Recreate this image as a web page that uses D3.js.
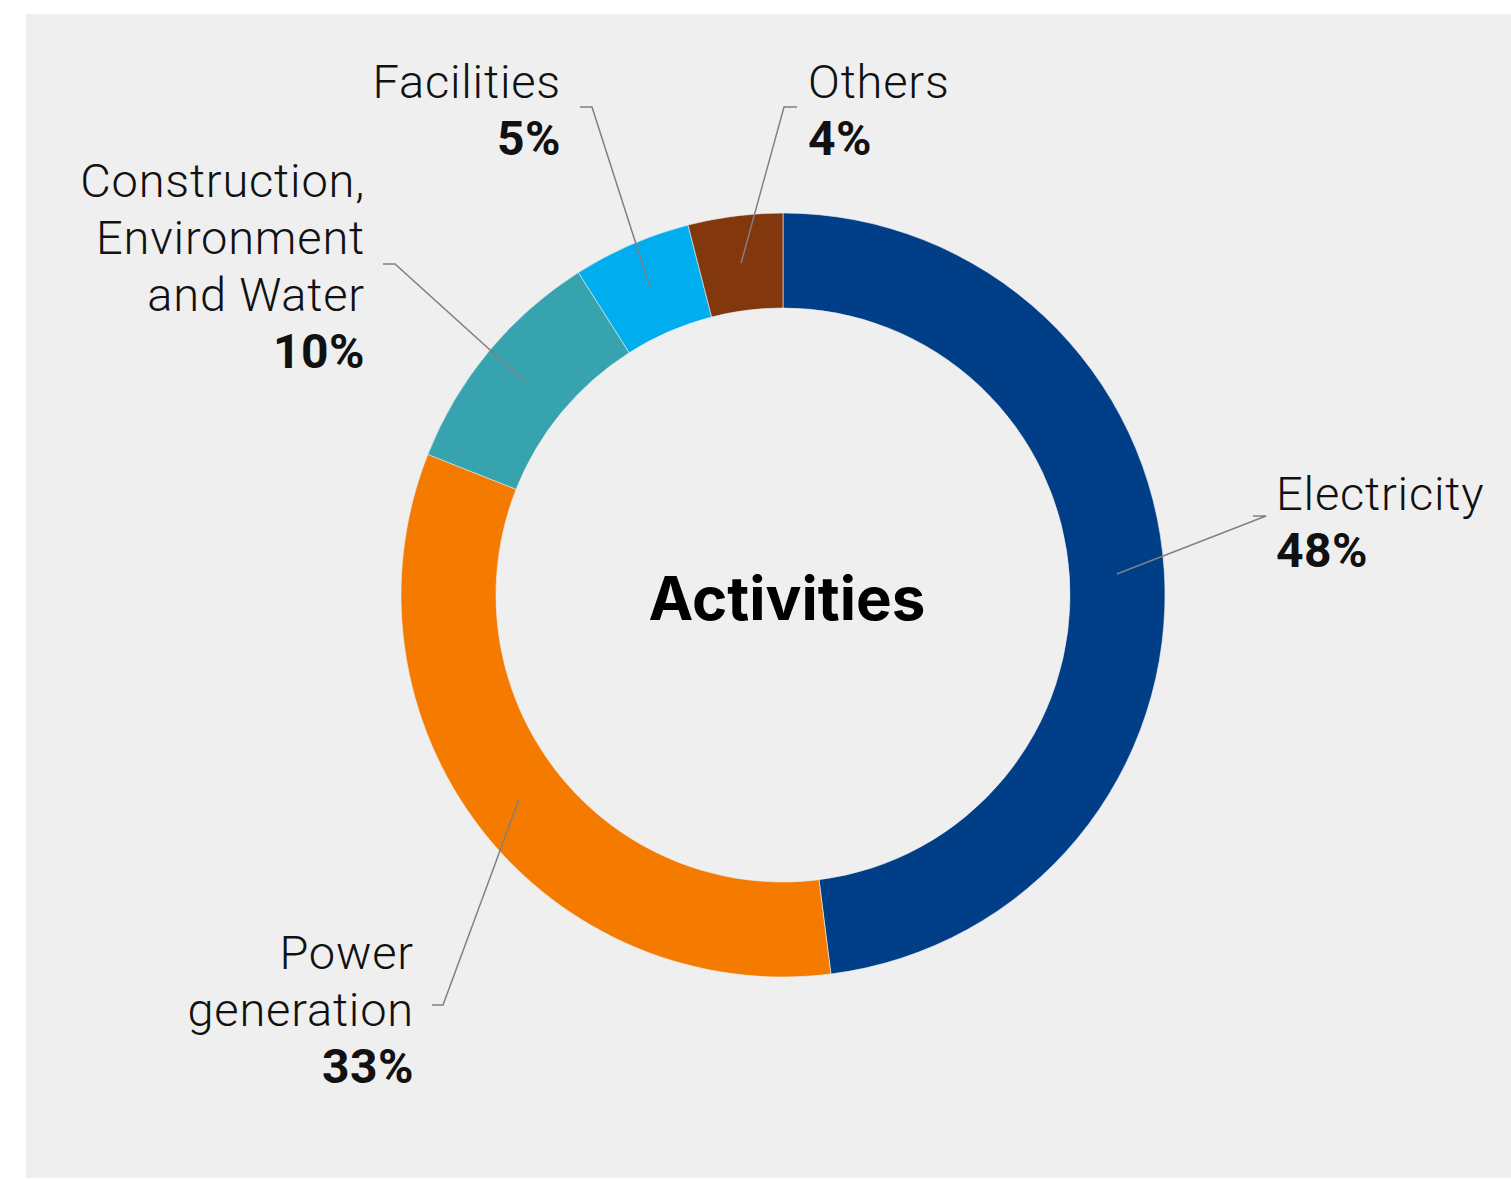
<!DOCTYPE html>
<html lang="en">
<head>
<meta charset="UTF-8" />
<title>Activities</title>
<script src="https://cdnjs.cloudflare.com/ajax/libs/d3/7.8.5/d3.min.js"></script>
<style>
  html, body { margin: 0; padding: 0; background: #fff; }
  svg { display: block; }
</style>
</head>
<body>
<div id="chart"></div>
<script>
// data
const categories = ["Electricity", "Power generation", "Construction, Environment and Water", "Facilities", "Others"];
const values = [48, 33, 10, 5, 4];
const labelLines = [
  ["Electricity"],
  ["Power", "generation"],
  ["Construction,", "Environment", "and Water"],
  ["Facilities"],
  ["Others"]
];
const colors = ["#003f87", "#f47a00", "#36a3ae", "#00aeef", "#82380c"];
const centerTitle = "Activities";

const width = 1511, height = 1179;
const cx = 783, cy = 595;
const outerR = 382, innerR = 287;

// label layout: text anchor point (first baseline), anchor side, elbow of leader line
const labelLayout = [
  { x: 1276, y: 510, anchor: "start", elbow: [1266, 516], tail: [1253, 516] },
  { x: 414, y: 969, anchor: "end", elbow: [443, 1005], tail: [432, 1005] },
  { x: 365, y: 197, anchor: "end", elbow: [395, 264], tail: [383, 264] },
  { x: 561, y: 98, anchor: "end", elbow: [592, 107], tail: [580, 107] },
  { x: 808, y: 98, anchor: "start", elbow: [784, 107], tail: [797, 107] }
];
const lineH = 57;

const svg = d3.select("#chart").append("svg")
  .attr("width", width).attr("height", height);

svg.append("rect")
  .attr("x", 26).attr("y", 14)
  .attr("width", width - 26).attr("height", 1164)
  .attr("fill", "#efefef");

const pie = d3.pie().sort(null).value(d => d)(values);
const arc = d3.arc().innerRadius(innerR).outerRadius(outerR);

const g = svg.append("g").attr("transform", `translate(${cx},${cy})`);

g.selectAll("path.slice").data(pie).join("path")
  .attr("class", "slice")
  .attr("d", arc)
  .attr("fill", (d, i) => colors[i])
  .attr("stroke", "#efefef")
  .attr("stroke-width", 0.6);

// leader lines
pie.forEach((d, i) => {
  const c = arc.centroid(d);
  const L = labelLayout[i];
  const pts = [[c[0] + cx, c[1] + cy], L.elbow, L.tail];
  svg.append("path")
    .attr("d", d3.line()(pts))
    .attr("fill", "none")
    .attr("stroke", "#808080")
    .attr("stroke-width", 1.5);
});

// labels
labelLines.forEach((lines, i) => {
  const L = labelLayout[i];
  const t = svg.append("text")
    .attr("text-anchor", L.anchor)
    .attr("font-family", "Roboto, sans-serif")
    .attr("fill", "#111");
  lines.forEach((ln, j) => {
    t.append("tspan")
      .attr("x", L.x).attr("y", L.y + j * lineH)
      .attr("font-size", 47)
      .attr("font-weight", 300)
      .attr("letter-spacing", 0.8)
      .text(ln);
  });
  t.append("tspan")
    .attr("x", L.x).attr("y", L.y + lines.length * lineH)
    .attr("font-size", 48)
    .attr("font-weight", 700)
    .attr("letter-spacing", 0.5)
    .text(values[i] + "%");
});

svg.append("text")
  .attr("x", 787).attr("y", 620)
  .attr("text-anchor", "middle")
  .attr("font-family", "Inter, sans-serif")
  .attr("font-weight", 700)
  .attr("font-size", 60)
  .attr("fill", "#000")
  .text(centerTitle);
</script>
</body>
</html>
